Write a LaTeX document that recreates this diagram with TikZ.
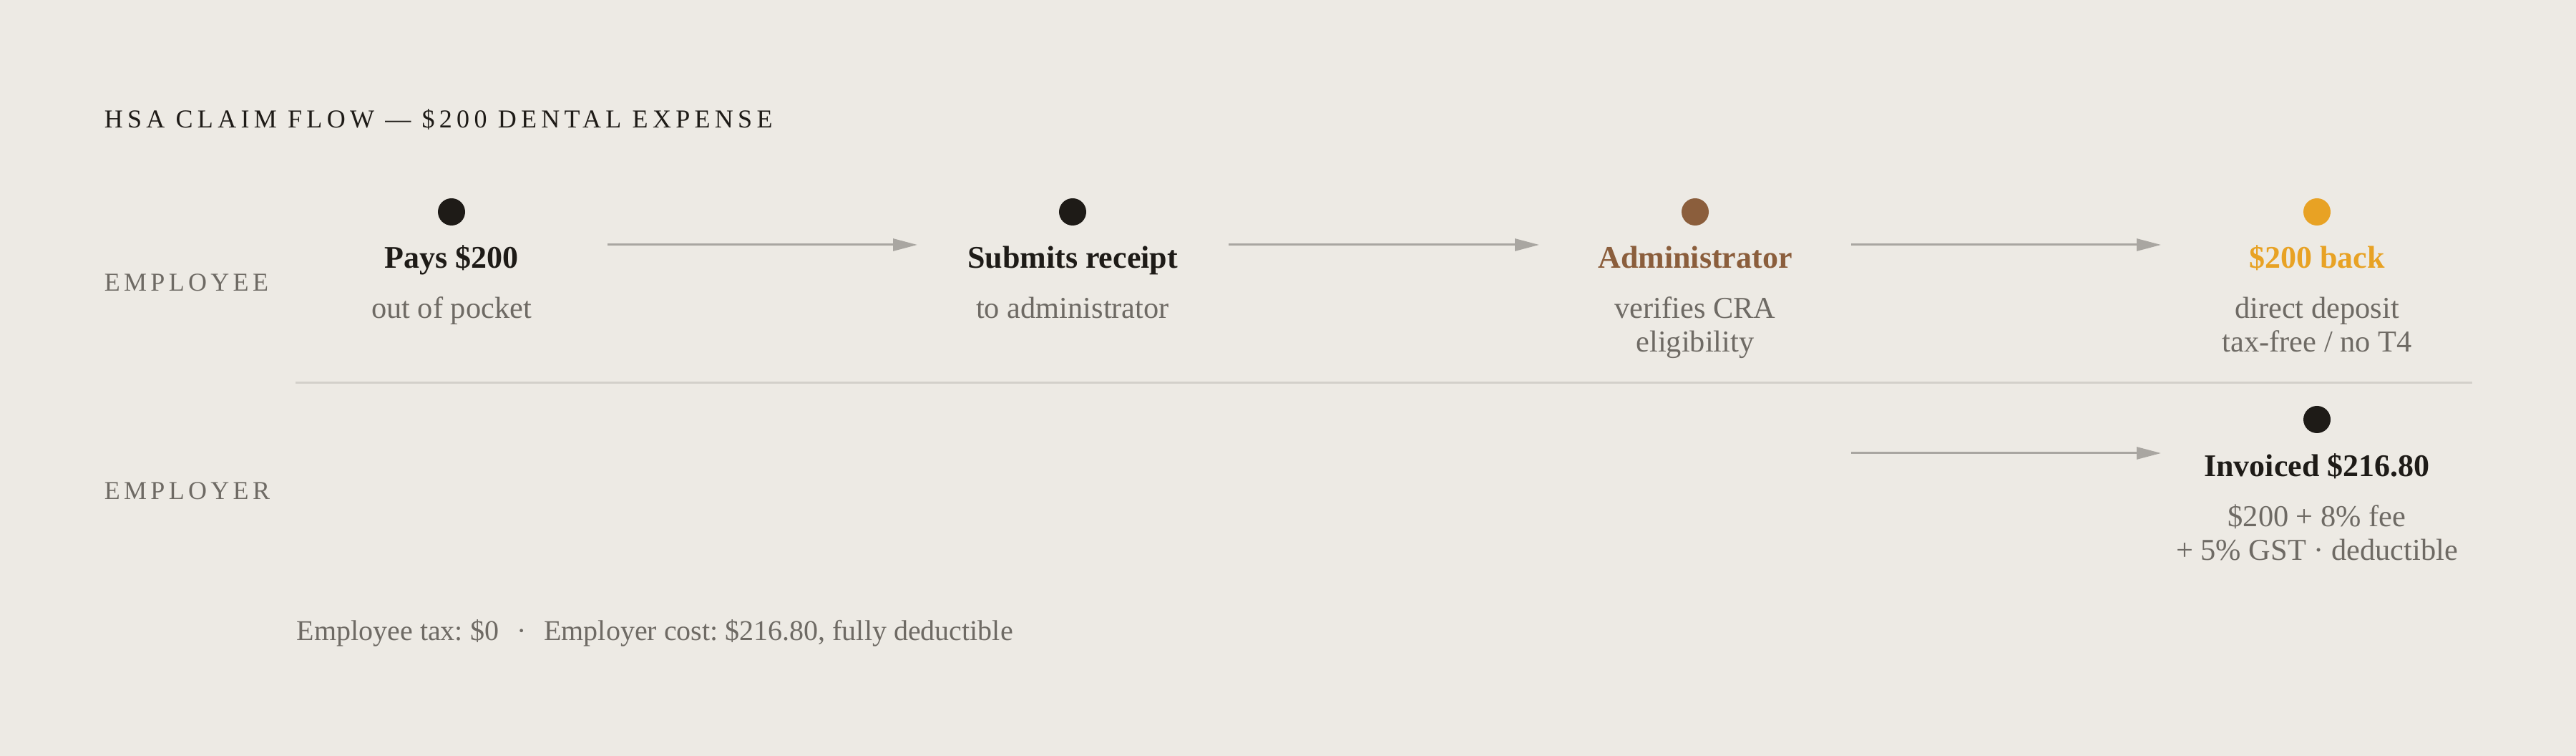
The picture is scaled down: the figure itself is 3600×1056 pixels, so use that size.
\documentclass[tikz,border=0pt]{standalone}
\usepackage{fontspec}
\setmainfont{Liberation Serif}
\newfontfamily\trackfont[LetterSpace=14.8]{Liberation Serif}
\newfontfamily\titlefont[LetterSpace=17.5]{Liberation Serif}
\usetikzlibrary{arrows.meta}
\definecolor{bg}{HTML}{EDEAE4}
\definecolor{ink}{HTML}{1E1B17}
\definecolor{muted}{HTML}{6E6A64}
\definecolor{brownc}{HTML}{8B5E3C}
\definecolor{goldc}{HTML}{E8A224}
\definecolor{arrowc}{HTML}{A9A6A1}
\definecolor{rulec}{HTML}{D3D0CA}
\frenchspacing
\begin{document}
\begin{tikzpicture}[x=0.25pt,y=-0.25pt,
  dotnode/.style={circle,inner sep=0pt,minimum size=9.5pt,draw=none},
  headnode/.style={anchor=base,inner sep=0pt,font=\fontsize{11}{13}\selectfont\bfseries,text=ink},
  subnode/.style={anchor=base,inner sep=0pt,align=center,font=\fontsize{10.6}{11.75}\selectfont,text=muted},
  lanenode/.style={anchor=base west,inner sep=0pt,font=\fontsize{9}{11}\trackfont,text=muted},
  flow/.style={draw=arrowc,line width=0.75pt,-{Triangle[length=8.5pt,width=4.25pt]}},
  sep/.style={draw=rulec,line width=0.75pt}]
\fill[bg] (0,0) rectangle (3600,1056);
\useasboundingbox (0,0) rectangle (3600,1056);

\node[anchor=base west,inner sep=0pt,font=\fontsize{9}{11}\titlefont,text=ink] (title) at (145,179) {HSA CLAIM FLOW — \$200 DENTAL EXPENSE};

\node[lanenode] (employee) at (145,407) {EMPLOYEE};
\node[lanenode] (employer) at (145,698) {EMPLOYER};

% separator
\coordinate (sepL) at (413,535);
\coordinate (sepR) at (3455,535);
\draw[sep] (sepL) -- (sepR);

% employee row
\node[dotnode,fill=ink] (d1) at (631,296) {};
\node[headnode] (h1) at (631,375) {Pays \$200};
\node[subnode] (s1) at (631,445) {out of pocket};

\node[dotnode,fill=ink] (d2) at (1499,296) {};
\node[headnode] (h2) at (1499,375) {Submits receipt};
\node[subnode] (s2) at (1499,445) {to administrator};

\node[dotnode,fill=brownc] (d3) at (2369,296) {};
\node[headnode,text=brownc] (h3) at (2369,375) {Administrator};
\node[subnode] (s3) at (2369,492) {verifies CRA\\eligibility};

\node[dotnode,fill=goldc] (d4) at (3238,296) {};
\node[headnode,text=goldc] (h4) at (3238,375) {\$200 back};
\node[subnode] (s4) at (3238,492) {direct deposit\\tax-free / no T4};

% employer row
\node[dotnode,fill=ink] (d5) at (3238,586) {};
\node[headnode] (h5) at (3238,666) {Invoiced \$216.80};
\node[subnode] (s5) at (3238,783) {\$200 + 8\% fee\\+ 5\% GST · deductible};

% arrows
\coordinate (a1s) at (849,342);  \coordinate (a1e) at (1282,342);
\coordinate (a2s) at (1717,342); \coordinate (a2e) at (2151,342);
\coordinate (a3s) at (2587,342); \coordinate (a3e) at (3020,342);
\coordinate (a4s) at (2587,633); \coordinate (a4e) at (3020,633);
\draw[flow] (a1s) -- (a1e);
\draw[flow] (a2s) -- (a2e);
\draw[flow] (a3s) -- (a3e);
\draw[flow] (a4s) -- (a4e);

\node[anchor=base west,inner sep=0pt,font=\fontsize{10}{12}\selectfont,text=muted] (foot) at (414,895) {Employee tax: \$0\hspace{6.25pt}·\hspace{6.25pt}Employer cost: \$216.80, fully deductible};
\end{tikzpicture}
\end{document}
